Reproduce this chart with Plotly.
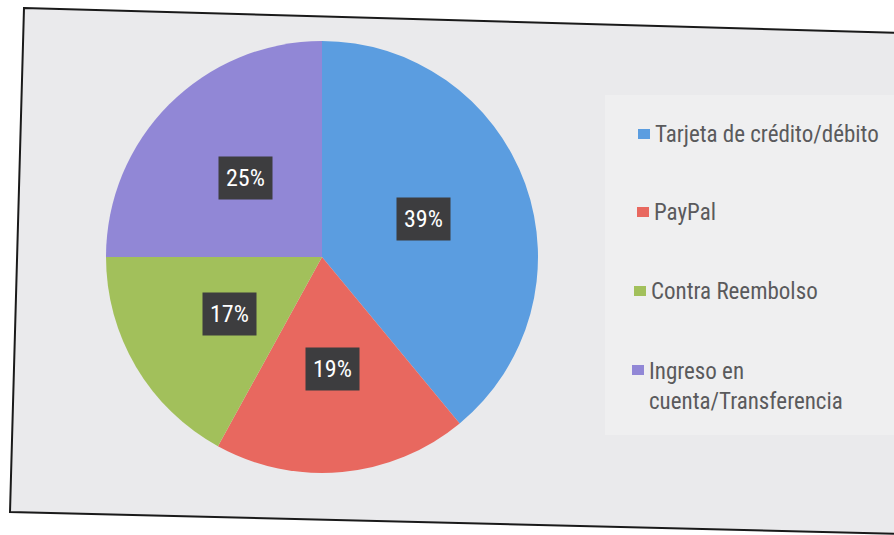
import math
import plotly.graph_objects as go

# Payment methods and their share of orders (%)
categories = [
    "Tarjeta de crédito/débito",
    "PayPal",
    "Contra Reembolso",
    "Ingreso en cuenta/Transferencia",
]
legend_text = [
    "Tarjeta de crédito/débito",
    "PayPal",
    "Contra Reembolso",
    "Ingreso en<br>cuenta/Transferencia",
]
shares = [39, 19, 17, 25]
colors = ["#5b9de0", "#e8685f", "#a2c05b", "#9187d6"]

W, H = 894, 535
FONT = "Liberation Sans Narrow, Roboto Condensed, Arial Narrow, sans-serif"

# pie geometry in pixels (centre measured from the top-left corner)
cx, cy, R = 322, 257, 216


def px(x):
    return x / W


def py(y):
    return 1 - y / H


fig = go.Figure()

fig.add_trace(go.Pie(
    labels=categories,
    values=shares,
    sort=False,
    direction="clockwise",
    rotation=0,
    marker=dict(colors=colors, line=dict(width=0)),
    textinfo="none",
    hoverinfo="label+percent",
    showlegend=False,
    domain=dict(x=[px(cx - R), px(cx + R)], y=[py(cy + R), py(cy - R)]),
))

shapes = []
# slide background with its dark outline
shapes.append(dict(
    type="path", xref="paper", yref="paper",
    path=(f"M {px(24)} {py(8)} L {px(905)} {py(33)} "
          f"L {px(905)} {py(534)} L {px(10)} {py(512)} Z"),
    fillcolor="#eaeaec", line=dict(color="#1a1a1a", width=2), layer="below",
))
# slightly lighter legend panel
shapes.append(dict(
    type="rect", xref="paper", yref="paper",
    x0=px(605), x1=px(894), y0=py(435), y1=py(95),
    fillcolor="#efeff0", line=dict(width=0), layer="below",
))

annotations = []

# percentage labels placed halfway out along each slice's mid angle
total = sum(shares)
cum = 0
for v in shares:
    mid = (cum + v / 2) / total * 2 * math.pi
    cum += v
    lx = cx + 0.5 * R * math.sin(mid)
    ly = cy - 0.52 * R * math.cos(mid)
    annotations.append(dict(
        x=px(lx), y=py(ly), xref="paper", yref="paper",
        xanchor="center", yanchor="middle",
        text=f"{round(v / total * 100)}%", showarrow=False,
        font=dict(family=FONT, size=24, color="white"),
        bgcolor="#3d3d3f", borderpad=7,
    ))

# legend: coloured square followed by the category name
legend_rows = [134, 212, 291, 370]
legend_x = [638, 637, 634, 632]
for text, col, yc, x0 in zip(legend_text, colors, legend_rows, legend_x):
    shapes.append(dict(
        type="rect", xref="paper", yref="paper",
        x0=px(x0), x1=px(x0 + 12), y0=py(yc + 5), y1=py(yc - 5),
        fillcolor=col, line=dict(width=0),
    ))
    two_lines = "<br>" in text
    annotations.append(dict(
        x=px(x0 + 15), y=py(yc - 14) if two_lines else py(yc),
        xref="paper", yref="paper",
        xanchor="left", yanchor="top" if two_lines else "middle",
        align="left", text=text, showarrow=False,
        font=dict(family=FONT, size=23, color="#5a5a5c"),
    ))

fig.update_layout(
    width=W, height=H,
    margin=dict(l=0, r=0, t=0, b=0),
    paper_bgcolor="white",
    plot_bgcolor="white",
    shapes=shapes,
    annotations=annotations,
)

fig.write_html("out.html")
